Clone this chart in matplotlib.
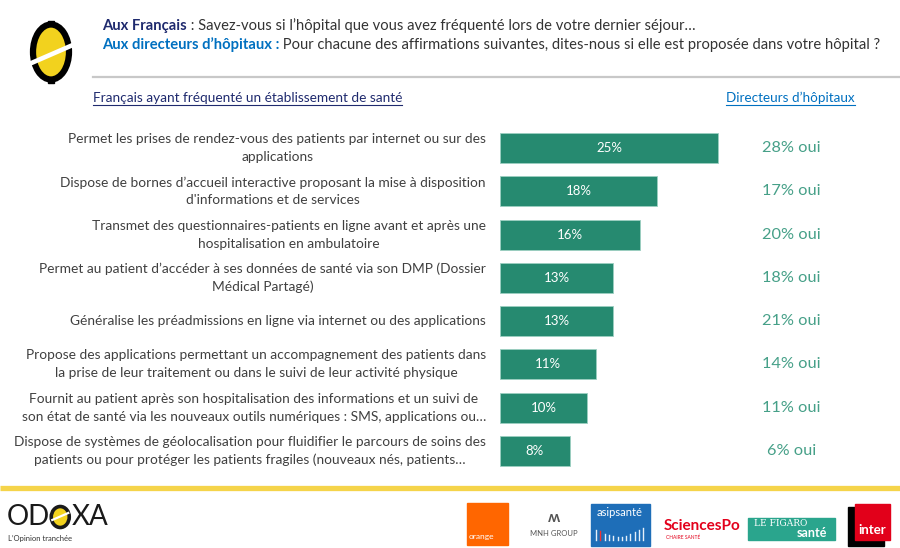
"""Odoxa slide: services numériques proposés par les hôpitaux."""

import matplotlib.pyplot as plt
from matplotlib.patches import Ellipse, Rectangle, Polygon

plt.rcParams.update({
    "font.family": ["Lato", "DejaVu Sans"],
    "font.size": 9,
})

W, H = 900, 548

labels = [
    "Permet les prises de rendez-vous des patients par internet ou sur des\napplications",
    "Dispose de bornes d\u2019accueil interactive proposant la mise à disposition\nd'informations et de services",
    "Transmet des questionnaires-patients en ligne avant et après une\nhospitalisation en ambulatoire",
    "Permet au patient d\u2019accéder à ses données de santé via son DMP (Dossier\nMédical Partagé)",
    "Généralise les préadmissions en ligne via internet ou des applications",
    "Propose des applications permettant un accompagnement des patients dans\nla prise de leur traitement ou dans le suivi de leur activité physique",
    "Fournit au patient après son hospitalisation des informations et un suivi de\nson état de santé via les nouveaux outils numériques : SMS, applications ou\u2026",
    "Dispose de systèmes de géolocalisation pour fluidifier le parcours de soins des\npatients ou pour protéger les patients fragiles (nouveaux nés, patients\u2026",
]
francais = [25, 18, 16, 13, 13, 11, 10, 8]
directeurs = [28, 17, 20, 18, 21, 14, 11, 6]

BAR = "#268A70"
TEAL_TXT = "#46A088"
GREY_TXT = "#404040"
NAVY = "#1F2A6E"
BLUE = "#0070C0"

fig = plt.figure(figsize=(W / 100, H / 100), dpi=100)

# overlay in pixel coordinates for decorations
ov = fig.add_axes([0, 0, 1, 1])
ov.set_xlim(0, W)
ov.set_ylim(H, 0)
ov.axis("off")

# bars axes
top, bottom = 126.5, 472.5
ax = fig.add_axes([500 / W, 1 - bottom / H, 400 / W, (bottom - top) / H])
y = list(range(len(francais)))
ax.barh(y, francais, height=0.69, color=BAR, edgecolor="#9CCFC1", linewidth=0.6)
ax.set_xlim(0, 400 / 8.72)
ax.set_ylim(len(y) - 0.5, -0.5)
ax.axis("off")
for i, v in enumerate(francais):
    ax.text(v / 2, i, f"{v}%", ha="center", va="center", color="white", fontsize=9.5)
for i, v in enumerate(directeurs):
    ax.text(33.4, i, f"{v}% oui", ha="center", va="center", color=TEAL_TXT, fontsize=11.8)
for i, lab in enumerate(labels):
    ax.text(-14 / 8.72, i, lab, ha="right", va="center", color=GREY_TXT, fontsize=9.9,
            multialignment="center", linespacing=1.58)

fig.canvas.draw()
r = fig.canvas.get_renderer()


def run_text(x, y0, parts):
    """Draw consecutive text runs on the overlay starting at pixel x."""
    for s, kw in parts:
        t = ov.text(x, y0, s, va="center", ha="left", **kw)
        bb = t.get_window_extent(r)
        x += bb.width
    return x


def underline_text(x, y0, s, color, size, ha="left"):
    t = ov.text(x, y0, s, va="center", ha=ha, color=color, fontsize=size)
    bb = t.get_window_extent(r)
    x0 = x if ha == "left" else x - bb.width
    ov.plot([x0, x0 + bb.width], [y0 + 7, y0 + 7], color=color, lw=0.8)


# header
run_text(102, 26, [("Aux Français", dict(color=NAVY, fontsize=10.6, fontweight="bold")),
                   (" : Savez-vous si l\u2019hôpital que vous avez fréquenté lors de votre dernier séjour\u2026",
                    dict(color="#333333", fontsize=10.6))])
run_text(102, 45, [("Aux directeurs d\u2019hôpitaux :", dict(color=BLUE, fontsize=10.6, fontweight="bold")),
                   (" Pour chacune des affirmations suivantes, dites-nous si elle est proposée dans votre hôpital ?",
                    dict(color="#333333", fontsize=10.6))])
ov.plot([93, 900], [77, 77], color="#C8C8C8", lw=1.6)

underline_text(93, 98, "Français ayant fréquenté un établissement de santé", NAVY, 9.8)
underline_text(855, 98, "Directeurs d\u2019hôpitaux", BLUE, 9.7, ha="right")

# Odoxa mark top-left
ov.add_patch(Ellipse((51, 52), 36, 55, facecolor="#F2D21E", edgecolor="black", lw=4.5))
ov.add_patch(Polygon([[28, 62], [74, 42], [74, 47], [28, 67]], closed=True,
                     facecolor="white", edgecolor="none"))
ov.add_patch(Rectangle((48, 21), 6, 4, color="black"))
ov.add_patch(Rectangle((48, 79), 6, 4, color="black"))

# footer
ov.plot([0, W], [488, 488], color="#F5D44A", lw=3.8, solid_capstyle="butt")
x = run_text(7, 517, [("OD", dict(color="#1a1a1a", fontsize=20))])
ov.add_patch(Ellipse((x + 10, 517), 18, 21, facecolor="#F2D21E", edgecolor="#1a1a1a", lw=2.6))
ov.plot([x + 2, x + 18], [520, 513], color="white", lw=1.6)
run_text(x + 21, 517, [("XA", dict(color="#1a1a1a", fontsize=20))])
ov.text(8, 539, "L\u2019Opinion tranchée", color="#333333", fontsize=5.5, va="center")

# partner logos
ov.add_patch(Rectangle((467, 503), 41, 42, color="#FF6600"))
ov.text(469, 540, "orange", color="white", fontsize=6, va="bottom")
ov.text(554, 518, "\u028D", color="#555555", fontsize=11, ha="center", va="center", fontweight="bold")
ov.text(554, 533, "MNH GROUP", color="#555555", fontsize=5.5, ha="center", va="center")
ov.add_patch(Rectangle((591, 504), 59, 42, color="#1E6EB8"))
ov.text(620, 512, "asipsanté", color="white", fontsize=8, ha="center", va="center")
for i, h in enumerate([10, 9, 6, 5, 4, 3, 3, 4, 6, 8, 10, 12]):
    ov.plot([596 + i * 4.3, 596 + i * 4.3], [540, 540 - h], color="#E6F0FA" if i != 1 else "#E33",
            lw=1)
ov.text(702, 526, "SciencesPo", color="#E3001B", fontsize=11, ha="center", va="center", fontweight="bold")
ov.text(666, 537, "CHAIRE SANTÉ", color="#E3001B", fontsize=3.5, va="center")
ov.add_patch(Rectangle((748, 518), 87, 22, color="#2AA58D"))
ov.text(754, 523, "LE FIGARO", color="white", fontsize=6.5, va="center", family="DejaVu Serif")
ov.text(797, 533, "santé", color="white", fontsize=9, va="center", fontweight="bold")
ov.add_patch(Rectangle((848, 507), 36, 39, color="black"))
ov.add_patch(Rectangle((855, 504), 35, 36, color="#E2001A"))
ov.text(872, 530, "inter", color="white", fontsize=9.5, ha="center", va="center", fontweight="bold")

fig.savefig("out.png", dpi=100)
